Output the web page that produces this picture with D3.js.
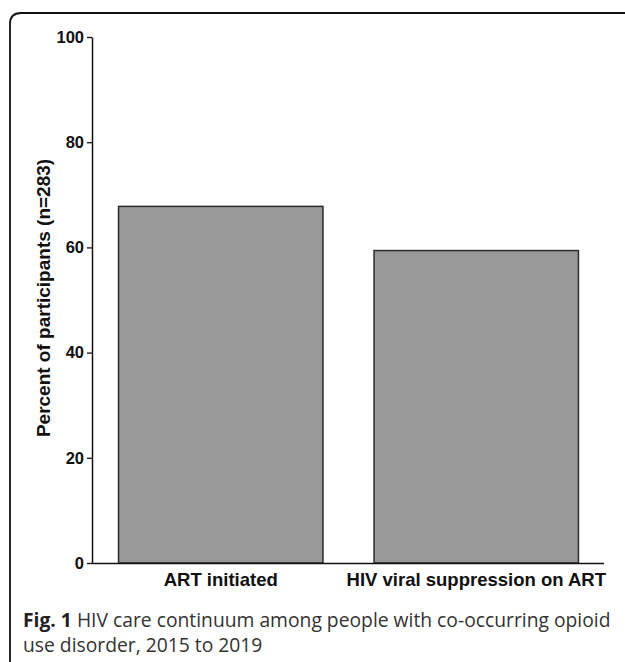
<!DOCTYPE html>
<html>
<head>
<meta charset="utf-8">
<style>
  body { margin: 0; background: #fff; }
  svg { display: block; }
</style>
</head>
<body>
<div id="chart"></div>
<script src="https://d3js.org/d3.v7.min.js"></script>
<script>
  // values (percent of n=283)
  var categories = ["ART initiated", "HIV viral suppression on ART"];
  var percents = [67.8, 59.4];
  var yTicks = [0, 20, 40, 60, 80, 100];
  var yLabel = "Percent of participants (n=283)";
  var captionBold = "Fig. 1";
  var captionLines = [" HIV care continuum among people with co-occurring opioid", "use disorder, 2015 to 2019"];

  var W = 625, H = 662;

  var svg = d3.select("#chart").append("svg")
    .attr("width", W)
    .attr("height", H);

  // frame round the figure
  svg.append("path")
    .attr("d", "M10,662 L10,24 Q10,13 21,13 L625,13")
    .attr("fill", "none")
    .attr("stroke", "#111")
    .attr("stroke-width", 1.8);

  var x = d3.scaleBand()
    .domain(categories)
    .range([93, 604])
    .paddingInner(0.2)
    .paddingOuter(0.1);

  var y = d3.scaleLinear()
    .domain([0, 100])
    .range([563, 37]);

  // bars
  svg.selectAll(".bar")
    .data(percents)
    .enter()
    .append("rect")
    .attr("class", "bar")
    .attr("x", (d, i) => x(categories[i]))
    .attr("y", d => y(d))
    .attr("width", x.bandwidth())
    .attr("height", d => y(0) - y(d))
    .attr("fill", "#999999")
    .attr("stroke", "#2b2b2b")
    .attr("stroke-width", 1.5);

  // y axis
  var yAxis = d3.axisLeft(y)
    .tickValues(yTicks)
    .tickSize(5)
    .tickSizeOuter(0)
    .tickPadding(3);

  var gy = svg.append("g")
    .attr("transform", "translate(92,0)")
    .call(yAxis);
  gy.select(".domain").attr("stroke", "#111").attr("stroke-width", 1.5);
  gy.selectAll(".tick line").attr("stroke", "#111").attr("stroke-width", 1.3);
  gy.selectAll(".tick text")
    .attr("font-family", "Liberation Sans, Arial, sans-serif")
    .attr("font-weight", "bold")
    .attr("font-size", 16.5)
    .attr("fill", "#111");

  // x axis (baseline only, no ticks)
  var xAxis = d3.axisBottom(x).tickSize(0).tickSizeOuter(0).tickPadding(10);
  var gx = svg.append("g")
    .attr("transform", "translate(0,563)")
    .call(xAxis);
  gx.select(".domain")
    .attr("d", "M92,0.5H604")
    .attr("stroke", "#111").attr("stroke-width", 1.5);
  gx.selectAll(".tick text")
    .attr("font-family", "Liberation Sans, Arial, sans-serif")
    .attr("font-weight", "bold")
    .attr("font-size", 18.5)
    .attr("fill", "#111");

  // y axis title
  svg.append("text")
    .attr("transform", "translate(50,298) rotate(-90)")
    .attr("text-anchor", "middle")
    .attr("font-family", "Liberation Sans, Arial, sans-serif")
    .attr("font-weight", "bold")
    .attr("font-size", 19)
    .attr("fill", "#111")
    .text(yLabel);

  // caption
  var cap = svg.append("g")
    .attr("font-family", "Open Sans, Noto Sans, sans-serif")
    .attr("font-size", 19.3)
    .attr("fill", "#333");

  var t1 = cap.append("text").attr("x", 23).attr("y", 627);
  t1.append("tspan").attr("font-weight", "bold").attr("fill", "#222").text(captionBold);
  t1.append("tspan").text(captionLines[0]);
  cap.append("text").attr("x", 23).attr("y", 652).text(captionLines[1]);
</script>
</body>
</html>
